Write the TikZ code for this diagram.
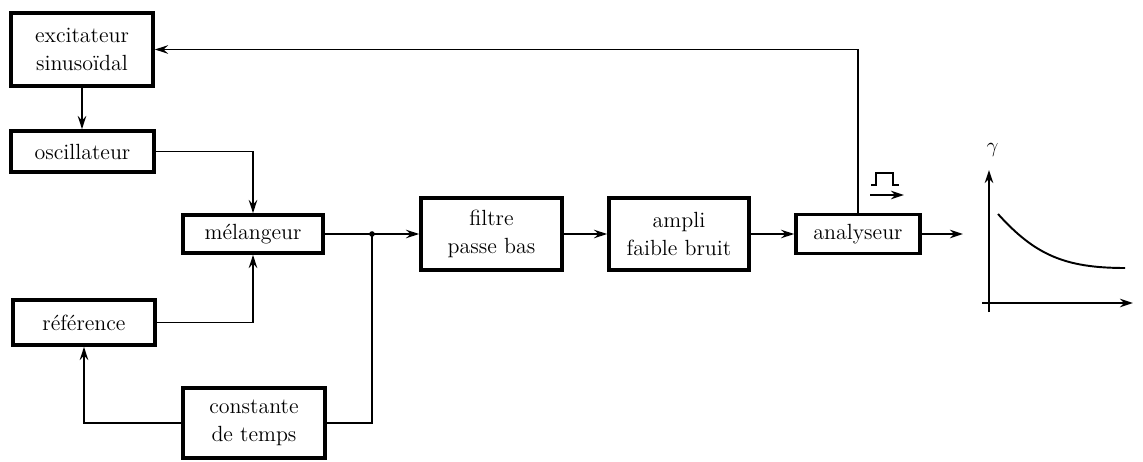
\documentclass[tikz,border=0pt]{standalone}
\usepackage{tikz}
\usetikzlibrary{arrows.meta, positioning}

\begin{document}
\begin{tikzpicture}[
    blk/.style  = {rectangle, draw, line width=2.2pt,
                   minimum width=2.8cm, minimum height=0.8cm,
                   align=center, inner sep=1pt,
                   font=\fontsize{12.5}{16}\selectfont},
    wire/.style = {line width=1.1pt},
    arr/.style  = {wire, -{Stealth[length=2.6mm, width=1.7mm]}}
]
\useasboundingbox (0,0) rectangle (22.86,-9.24);

%% ---- left column ----
\node[blk, minimum width=2.84cm, minimum height=1.46cm] (exc) at (1.64,-0.99) {excitateur\\sinusoïdal};
\node[blk, minimum width=2.86cm, minimum height=0.82cm] (osc) at (1.65,-3.03) {oscillateur};
\node[blk, minimum width=2.84cm, minimum height=0.90cm] (ref) at (1.68,-6.45) {référence};

%% ---- second column ----
\node[blk, minimum width=2.80cm, minimum height=0.76cm] (mel) at (5.06,-4.68) {mélangeur};
\node[blk, minimum width=2.84cm, minimum height=1.40cm] (cst) at (5.08,-8.46) {constante\\de temps};

%% ---- main chain ----
\node[blk, minimum width=2.82cm, minimum height=1.44cm] (fil) at (9.83,-4.68)  {filtre\\passe bas};
\node[blk, minimum width=2.80cm, minimum height=1.44cm] (amp) at (13.58,-4.68) {ampli\\faible bruit};
\node[blk, minimum width=2.48cm, minimum height=0.78cm] (ana) at (17.16,-4.68) {analyseur};

\coordinate (jn)  at (7.44,-4.68);
\coordinate (out) at (19.26,-4.68);

%% ---- connectors ----
\draw[arr] (exc.south) -- (exc.south |- osc.north);
\draw[arr] (osc.east) -| (mel.north);
\draw[arr] (ref.east) -| (mel.south);
\draw[wire] (mel.east) -- (jn);
\fill (jn) circle (1.6pt);
\draw[arr] (jn) -- (fil.west);
\draw[wire] (jn) |- (cst.east);
\draw[arr] (cst.west) -| (ref.south);
\draw[arr] (fil.east) -- (amp.west);
\draw[arr] (amp.east) -- (ana.west);
\draw[arr] (ana.north) |- (exc.east);
\draw[arr] (ana.east) -- (out);

%% pulse symbol above the analyseur
\draw[line width=1.4pt] (17.42,-3.70) -- (17.52,-3.70) -- (17.52,-3.46) -- (17.86,-3.46)
            -- (17.86,-3.70) -- (17.98,-3.70);
\draw[arr] (17.40,-3.90) -- (18.08,-3.90);

%% ---- output curve ----
\draw[arr] (19.78,-6.24) -- (19.78,-3.40);
\draw[arr] (19.64,-6.06) -- (22.66,-6.06);
\node[font=\large] (gam) at (19.85,-3.00) {$\gamma$};
\draw[wire] (19.96,-4.28) .. controls (20.70,-5.10) and (21.30,-5.36) .. (22.50,-5.36);

\end{tikzpicture}
\end{document}
